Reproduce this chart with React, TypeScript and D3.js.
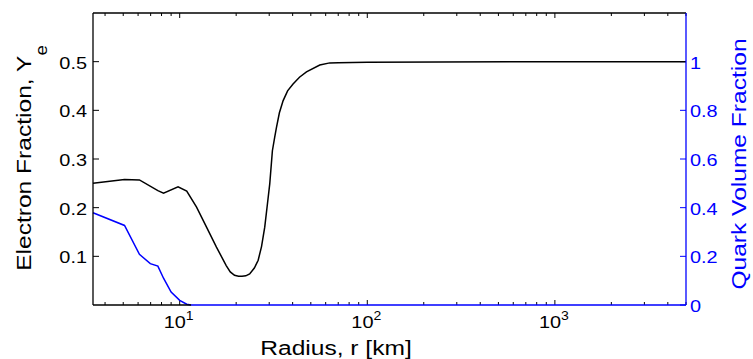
import * as d3 from "d3";

// electron fraction profile (left axis)
const yeRadius = [
  3.45, 5.08, 6.1, 7.65, 8.2, 9.8, 10.9, 12.3, 13.9, 15.7, 17.7, 18.6, 19.6,
  20.6, 21.5, 22.5, 23.6, 25, 26.2, 27.3, 28.4, 29.3, 30.2, 31.2, 32.1, 32.8,
  34, 35.6, 37.6, 40.2, 43.5, 47.4, 55.8, 63.1, 70, 100, 1000, 5000,
];
const yeValues = [
  0.25, 0.258, 0.257, 0.235, 0.23, 0.243, 0.234, 0.201, 0.16, 0.119, 0.081,
  0.068, 0.061, 0.059, 0.059, 0.06, 0.064, 0.076, 0.092, 0.12, 0.16, 0.205,
  0.249, 0.317, 0.345, 0.365, 0.395, 0.42, 0.44, 0.454, 0.468, 0.479, 0.493,
  0.4975, 0.498, 0.499, 0.5, 0.5,
];

// quark volume fraction (right axis)
const qRadius = [3.45, 5.08, 6.1, 6.97, 7.65, 8.2, 9.0, 10, 10.9, 11.5, 5000];
const qValues = [0.379, 0.327, 0.208, 0.17, 0.16, 0.11, 0.053, 0.019, 0.003, 0, 0];

const leftTicks = [0.1, 0.2, 0.3, 0.4, 0.5];
const rightTicks = [0, 0.2, 0.4, 0.6, 0.8, 1];
const xMajor = [10, 100, 1000];

const W = 753;
const H = 359;
const left = 93;
const right = 686;
const top = 13;
const bottom = 305;
const SX = 1.17; // the text in the reference is drawn a bit wide
const FONT = "'Liberation Sans', Arial, Helvetica, sans-serif";
const BLUE = "#0000ff";

export default function App() {
  const x = d3.scaleLog().domain([3.45, 5000]).range([left, right]);
  const yL = d3.scaleLinear().domain([0, 0.6]).range([bottom, top]);
  const yR = d3.scaleLinear().domain([0, 1.2]).range([bottom, top]);

  const yeLine = d3
    .line<number>()
    .x((_, i) => x(yeRadius[i]))
    .y((d) => yL(d));
  const qLine = d3
    .line<number>()
    .x((_, i) => x(qRadius[i]))
    .y((d) => yR(d));

  const xTicks = x.ticks();
  const isMajor = (t: number) => xMajor.includes(t);

  return (
    <svg
      width={W}
      height={H}
      style={{ position: "absolute", left: 0, top: 0, background: "#fff" }}
      fontFamily={FONT}
    >
      <rect width={W} height={H} fill="#fff" />

      {/* x ticks, bottom and top, pointing inward */}
      {xTicks.map((t) => {
        const len = isMajor(t) ? 5 : 3;
        return (
          <g key={t} stroke="#000" strokeWidth={1}>
            <line x1={x(t)} x2={x(t)} y1={bottom} y2={bottom - len} />
            <line x1={x(t)} x2={x(t)} y1={top} y2={top + len} />
          </g>
        );
      })}

      {/* left ticks */}
      {leftTicks.map((t) => (
        <g key={t}>
          <line x1={left} x2={left + 6} y1={yL(t)} y2={yL(t)} stroke="#000" />
          <text
            transform={`translate(87,${yL(t) + 7}) scale(${SX},1)`}
            textAnchor="end"
            fontSize={17}
            fill="#000"
          >
            {t.toFixed(1)}
          </text>
        </g>
      ))}

      {/* right ticks */}
      {rightTicks.map((t) => (
        <g key={t}>
          <line x1={right} x2={right - 6} y1={yR(t)} y2={yR(t)} stroke={BLUE} />
          <text
            transform={`translate(690,${yR(t) + 7}) scale(${SX},1)`}
            textAnchor="start"
            fontSize={17}
            fill={BLUE}
          >
            {String(t)}
          </text>
        </g>
      ))}

      {/* x tick labels */}
      {xMajor.map((t) => (
        <text
          key={t}
          transform={`translate(${x(t) - 1},328) scale(${SX},1)`}
          textAnchor="middle"
          fontSize={17}
          fill="#000"
        >
          10
          <tspan dy={-8} fontSize={12}>
            {Math.round(Math.log10(t))}
          </tspan>
        </text>
      ))}

      {/* curves */}
      <path d={qLine(qValues) ?? ""} fill="none" stroke={BLUE} strokeWidth={1.5} />
      <path d={yeLine(yeValues) ?? ""} fill="none" stroke="#000" strokeWidth={1.5} />

      {/* frame */}
      <line x1={left} x2={right} y1={top} y2={top} stroke="#000" strokeWidth={1.3} />
      <line x1={left} x2={left} y1={top} y2={bottom} stroke="#000" strokeWidth={1.3} />
      <line x1={left} x2={x(qRadius[9])} y1={bottom} y2={bottom} stroke="#000" strokeWidth={1.3} />
      <line x1={right} x2={right} y1={top} y2={bottom} stroke={BLUE} strokeWidth={1.3} />

      {/* axis titles */}
      <text
        transform={`translate(336,355) scale(${SX},1)`}
        textAnchor="middle"
        fontSize={21}
        fill="#000"
      >
        Radius, r [km]
      </text>
      <text
        transform={`translate(31,158) rotate(-90) scale(${SX},1)`}
        textAnchor="middle"
        fontSize={21}
        fill="#000"
      >
        Electron Fraction, Y
        <tspan dy={16} fontSize={16}>
          e
        </tspan>
      </text>
      <text
        transform={`translate(746,164) rotate(-90) scale(${SX},1)`}
        textAnchor="middle"
        fontSize={21}
        fill={BLUE}
      >
        Quark Volume Fraction
      </text>
    </svg>
  );
}
